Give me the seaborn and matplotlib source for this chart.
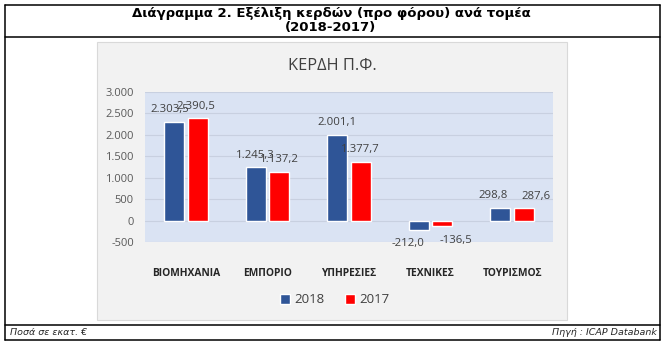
import matplotlib
matplotlib.use("Agg")
import matplotlib.pyplot as plt
import seaborn as sns
import pandas as pd
from matplotlib.lines import Line2D
from matplotlib.patches import Rectangle, Patch

# ---- data ----
sectors = ["ΒΙΟΜΗΧΑΝΙΑ", "ΕΜΠΟΡΙΟ", "ΥΠΗΡΕΣΙΕΣ", "ΤΕΧΝΙΚΕΣ", "ΤΟΥΡΙΣΜΟΣ"]
years = ["2018", "2017"]
values_2018 = [2303.5, 1245.3, 2001.1, -212.0, 298.8]
values_2017 = [2390.5, 1137.2, 1377.7, -136.5, 287.6]
y_ticks = [-500, 0, 500, 1000, 1500, 2000, 2500, 3000]

fig_title = "Διάγραμμα 2. Εξέλιξη κερδών (προ φόρου) ανά τομέα\n(2018-2017)"
chart_title = "ΚΕΡΔΗ Π.Φ."
note_left = "Ποσά σε εκατ. €"
note_right = "Πηγή : ICAP Databank"

# label x-offsets (px) to mimic the original placement
label_dx = {"2018": [-4, 0, 0, -11, -7], "2017": [-2, 0, 0, 14, 12]}

df = pd.DataFrame({
    "sector": sectors * 2,
    "year": [years[0]] * len(sectors) + [years[1]] * len(sectors),
    "value": values_2018 + values_2017,
})

W, H = 668, 349
sns.set_style("white")
plt.rcParams["font.family"] = ["Open Sans", "DejaVu Sans"]

fig = plt.figure(figsize=(W / 100, H / 100), dpi=100)


def fx(x):
    return x / W


def fy(y):
    return 1 - y / H


# chart panel
fig.add_artist(Rectangle((fx(97.3), fy(320)), (567 - 97.3) / W, (320 - 42) / H,
                         transform=fig.transFigure, facecolor="#f2f2f2",
                         edgecolor="#d9d9d9", linewidth=0.8, zorder=0))

# outer frame
lw = 1.1
for (x0, y0, x1, y1) in [(4.7, 4.7, 659.7, 4.7), (4.7, 340, 659.7, 340),
                         (4.7, 4.7, 4.7, 340), (659.7, 4.7, 659.7, 340),
                         (4.7, 37.3, 659.7, 37.3), (4.7, 324.7, 659.7, 324.7)]:
    fig.add_artist(Line2D([fx(x0), fx(x1)], [fy(y0), fy(y1)], color="black",
                          linewidth=lw, transform=fig.transFigure))

fig.text(fx(331), fy(20.5), fig_title, ha="center", va="center",
         fontsize=9.5, fontweight="bold", family="DejaVu Sans", linespacing=1.05,
         color="black")
fig.text(fx(10), fy(332.5), note_left, ha="left", va="center", fontsize=6.8,
         style="italic", family="DejaVu Sans")
fig.text(fx(657), fy(332.5), note_right, ha="right", va="center", fontsize=6.8,
         style="italic", family="DejaVu Sans")

fig.text(fx(332.7), fy(65.5), chart_title, ha="center", va="center",
         fontsize=11.8, color="#404040")

ax = fig.add_axes([fx(145), fy(242), (553 - 145) / W, (242 - 92) / H])
ax.set_facecolor("#dae3f3")
palette = {"2018": "#2f5597", "2017": "#ff0000"}
sns.barplot(data=df, x="sector", y="value", hue="year", hue_order=years,
            palette=palette, width=0.576, gap=0.15, ax=ax, legend=False,
            saturation=1, zorder=3)

ax.set_ylim(-500, 3000)
ax.set_yticks(y_ticks)
ax.set_yticklabels([f"{t:,}".replace(",", ".") for t in y_ticks])
ax.grid(axis="y", color="#c8d0e0", linewidth=0.8, zorder=0)
ax.set_axisbelow(True)
for s in ax.spines.values():
    s.set_visible(False)
ax.set_xlabel("")
ax.set_ylabel("")
ax.tick_params(axis="y", length=0, labelsize=8, labelcolor="#595959", pad=8)
ax.tick_params(axis="x", length=0, labelsize=7.4, labelcolor="#262626", pad=19)
for lab in ax.get_xticklabels():
    lab.set_fontweight("bold")


def fmt(v):
    s = f"{v:,.1f}"
    return s.replace(",", "X").replace(".", ",").replace("X", ".")


for year, cont in zip(years, ax.containers):
    vals = df[df["year"] == year]["value"].tolist()
    for i, (bar, v) in enumerate(zip(cont, vals)):
        xc = bar.get_x() + bar.get_width() / 2
        dy = 8.6 if v >= 0 else -10
        ax.annotate(fmt(v), (xc, v), xytext=(label_dx[year][i] * 0.72, dy),
                    textcoords="offset points", ha="center", va="center",
                    fontsize=8.2, color="#404040", zorder=5, annotation_clip=False)

handles = [Patch(facecolor=palette[y], label=y) for y in years]
fig.legend(handles=handles, loc="center", bbox_to_anchor=(fx(335), fy(299.8)),
           ncol=2, frameon=False, fontsize=9.5, handlelength=0.75,
           handleheight=0.75, handletextpad=0.3, columnspacing=1.6,
           labelcolor="#404040")

fig.savefig("out.png", dpi=100)
